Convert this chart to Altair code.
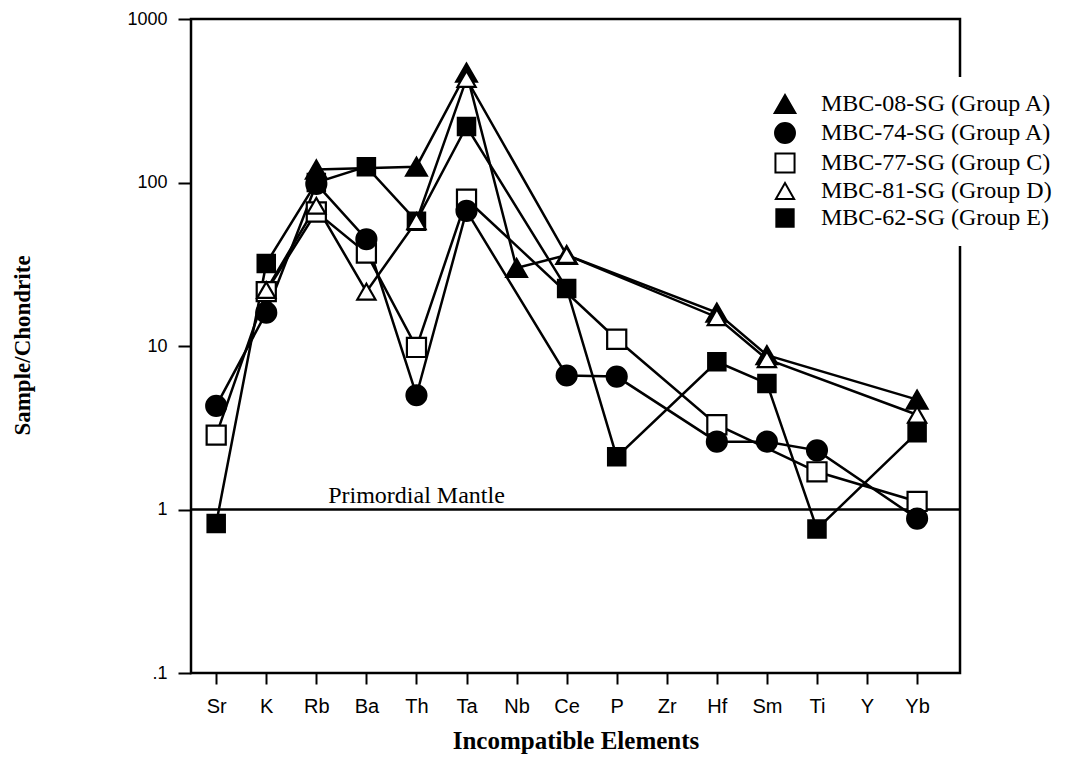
import altair as alt
import pandas as pd

elements = ["Sr", "K", "Rb", "Ba", "Th", "Ta", "Nb", "Ce", "P", "Zr", "Hf", "Sm", "Ti", "Y", "Yb"]
series_names = [
    "MBC-08-SG (Group A)",
    "MBC-74-SG (Group A)",
    "MBC-77-SG (Group C)",
    "MBC-81-SG (Group D)",
    "MBC-62-SG (Group E)",
]
N = None
mbc08 = [N, N, 120, N, 125, 470, 30, 36, N, N, 16, 8.8, N, N, 4.7]
mbc74 = [4.3, 16, 98, 45, 5.0, 67, N, 6.6, 6.5, N, 2.6, 2.6, 2.3, N, 0.88]
mbc77 = [2.85, 21.5, 66, 37, 9.8, 79, N, N, 11, N, 3.3, N, 1.7, N, 1.12]
mbc81 = [N, 22, 72, 21.5, 58, 430, N, 36, N, N, 15, 8.3, N, N, 3.8]
mbc62 = [0.82, 32, 100, 125, 58, 220, N, 22.5, 2.1, N, 8.0, 5.9, 0.76, N, 2.95]
series_values = [mbc08, mbc74, mbc77, mbc81, mbc62]

shapes = ["triangle-up", "circle", "square", "triangle-up", "square"]
fills = ["black", "black", "white", "white", "black"]
sizes = [430, 300, 300, 430, 300]
draw_rank = [3, 2, 1, 4, 0]

y_ticks = [0.1, 1, 10, 100, 1000]

rows = []
for name, vals, rank in zip(series_names, series_values, draw_rank):
    for i, (el, v) in enumerate(zip(elements, vals)):
        if v is not None:
            rows.append({"element": el, "idx": i, "series": name, "value": v, "rank": rank})
df = pd.DataFrame(rows)

serif = "Liberation Serif"
sans = "Liberation Sans Narrow, Liberation Sans"

x_scale = alt.Scale(type="point", domain=elements, padding=0.68, align=0.37)
y_scale = alt.Scale(type="log", domain=[0.1, 1000], nice=False)

x_enc = alt.X(
    "element:N",
    sort=elements,
    scale=x_scale,
    axis=alt.Axis(
        title="Incompatible Elements",
        titleFont=serif,
        titleFontWeight="bold",
        titleFontSize=25,
        titlePadding=12,
        labelFont=sans,
        labelFontSize=20,
        labelColor="black",
        labelAngle=0,
        labelPadding=12,
        tickSize=11,
        tickWidth=2,
        tickColor="black",
        domain=False,
        grid=False,
    ),
)
y_enc = alt.Y(
    "value:Q",
    scale=y_scale,
    axis=alt.Axis(
        title="Sample/Chondrite",
        titleFont=serif,
        titleFontWeight="bold",
        titleFontSize=23,
        titleX=-157,
        titleY=326,
        labelFont="Liberation Sans",
        labelFontSize=18,
        labelColor="black",
        labelPadding=11,
        values=y_ticks,
        labelExpr="datum.value < 1 ? '.1' : format(datum.value, 'd')",
        tickSize=13,
        tickWidth=2,
        tickColor="black",
        domain=False,
        grid=False,
    ),
)

legend = alt.Legend(
    title=None,
    orient="none",
    legendX=567,
    legendY=58,
    fillColor="white",
    padding=15,
    labelFont=serif,
    labelFontSize=24,
    labelColor="black",
    labelLimit=0,
    labelOffset=24,
    rowPadding=2,
    symbolStrokeWidth=2,
)

lines = alt.Chart(df).mark_line(color="black", strokeWidth=2.5).encode(
    x=x_enc,
    y=y_enc,
    detail="series:N",
    order="idx:Q",
)

points = alt.Chart(df).mark_point(filled=False, strokeWidth=2.2, opacity=1).encode(
    x=x_enc,
    y=y_enc,
    shape=alt.Shape("series:N", scale=alt.Scale(domain=series_names, range=shapes), legend=legend),
    fill=alt.Fill("series:N", scale=alt.Scale(domain=series_names, range=fills), legend=legend),
    stroke=alt.Stroke("series:N", scale=alt.Scale(domain=series_names, range=["black"] * 5), legend=legend),
    size=alt.Size("series:N", scale=alt.Scale(domain=series_names, range=sizes), legend=legend),
    order="rank:Q",
)

mantle = alt.Chart(pd.DataFrame({"v": [1]})).mark_rule(color="black", strokeWidth=2.5).encode(
    y=alt.Y("v:Q", scale=y_scale)
)
mantle_label = alt.Chart(pd.DataFrame({"element": ["Th"], "v": [1], "t": ["Primordial Mantle"]})).mark_text(
    font=serif, fontSize=24, color="black", dy=-7, align="center", baseline="alphabetic"
).encode(
    x=alt.X("element:N", sort=elements, scale=x_scale),
    y=alt.Y("v:Q", scale=y_scale),
    text="t:N",
)

chart = (
    alt.layer(mantle, lines, points, mantle_label)
    .properties(
        width=769,
        height=654,
        padding={"left": 183, "top": 11, "right": 105, "bottom": 90},
        autosize=alt.AutoSizeParams(type="none"),
        background="white",
    )
    .configure_view(stroke="black", strokeWidth=2.5)
)

chart.save("out.html", embed_options={"renderer": "svg", "actions": False})
